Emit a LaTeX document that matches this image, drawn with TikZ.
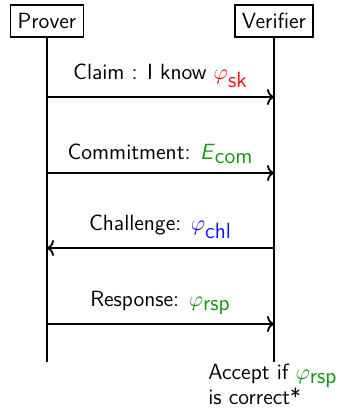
\documentclass[tikz,border=0pt]{standalone}
\usepackage{xcolor}
\usepackage{tikz}
\usetikzlibrary{arrows.meta, positioning}
\definecolor{pgreen}{RGB}{20,150,20}
\definecolor{pblue}{RGB}{20,20,250}
\definecolor{pred}{RGB}{240,20,20}
\newcommand{\sub}[1]{_{\textsf{#1}}}

\begin{document}
\begin{tikzpicture}[x=0.5pt, y=-0.5pt, font=\sffamily\fontsize{11}{12.5}\selectfont,
  party/.style={draw, line width=0.6pt, inner xsep=3.5pt, minimum height=16pt},
  life/.style={line width=0.9pt},
  msg/.style={line width=0.9pt, -{To[length=3.5pt, width=8pt]}},
  msglabel/.style={above=1pt, midway}]
\useasboundingbox (0,0) rectangle (340,409);
\node[party] (prover) at (47,21) {Prover};
\node[party] (verifier) at (274,21) {Verifier};
\coordinate (pend) at (47,362);
\coordinate (vend) at (274,362);
\draw[life] (prover) -- (pend);
\draw[life] (verifier) -- (vend);
% messages
\coordinate (p1) at (47,97);   \coordinate (v1) at (274,97);
\coordinate (p2) at (47,173);  \coordinate (v2) at (274,173);
\coordinate (p3) at (47,248);  \coordinate (v3) at (274,248);
\coordinate (p4) at (47,324);  \coordinate (v4) at (274,324);
\draw[msg] (p1) -- node[msglabel] (claim) {Claim : I know $\color{pred}\varphi\sub{sk}$} (v1);
\draw[msg] (p2) -- node[msglabel] (commit) {Commitment: \textcolor{pgreen}{$\mbox{\textsl{E}}\sub{com}$}} (v2);
\draw[msg] (v3) -- node[msglabel] (chal) {Challenge: $\color{pblue}\varphi\sub{chl}$} (p3);
\draw[msg] (p4) -- node[msglabel] (resp) {Response: $\color{pgreen}\varphi\sub{rsp}$} (v4);
\node[anchor=north west, align=left, inner sep=0pt] (accept) at (208,364)
  {Accept if $\color{pgreen}\varphi\sub{rsp}$\\is correct*};
\end{tikzpicture}
\end{document}
